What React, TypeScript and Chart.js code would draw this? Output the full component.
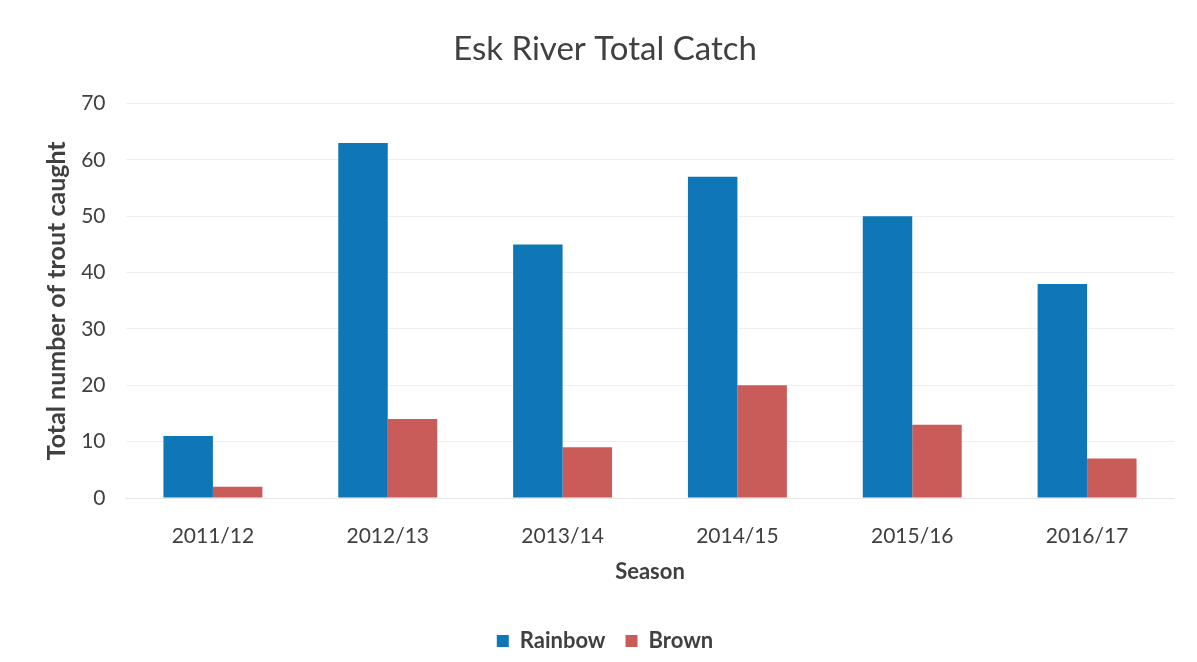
import React, { useEffect, useRef } from "react";
import { Chart, registerables } from "chart.js";

Chart.register(...registerables);

const seasons = ["2011/12", "2012/13", "2013/14", "2014/15", "2015/16", "2016/17"];
const rainbow = [11, 63, 45, 57, 50, 38];
const brown = [2, 14, 9, 20, 13, 7];
const yTicks = [0, 10, 20, 30, 40, 50, 60, 70];

const TEXT = "#404040";

export default function App() {
  const ref = useRef<HTMLCanvasElement | null>(null);

  useEffect(() => {
    document.body.style.margin = "0";
    const canvas = ref.current;
    if (!canvas) return;
    const chart = new Chart(canvas, {
      type: "bar",
      data: {
        labels: seasons,
        datasets: [
          {
            label: "Rainbow",
            data: rainbow,
            backgroundColor: "#0f77b6",
            categoryPercentage: 0.566,
            barPercentage: 1,
          },
          {
            label: "Brown",
            data: brown,
            backgroundColor: "#c95c59",
            categoryPercentage: 0.566,
            barPercentage: 1,
          },
        ],
      },
      options: {
        animation: false,
        responsive: true,
        maintainAspectRatio: false,
        layout: { padding: { top: 30, bottom: 0, left: 35.5, right: 22.5 } },
        plugins: {
          title: {
            display: true,
            text: "Esk River Total Catch",
            color: TEXT,
            font: { family: "Lato", size: 33, weight: "normal" },
            padding: { top: 0, bottom: 34 },
          },
          legend: {
            display: true,
            position: "bottom",
            labels: {
              color: TEXT,
              font: { family: "Lato", size: 22, weight: "bold" },
              boxWidth: 12,
              boxHeight: 12,
              padding: 20,
            },
          },
          tooltip: { enabled: false },
        },
        scales: {
          x: {
            grid: { display: false },
            border: { display: true, color: "#e6e6e6" },
            ticks: {
              color: TEXT,
              font: { family: "Lato", size: 21 },
              padding: 18,
            },
            title: {
              display: true,
              text: "Season",
              color: TEXT,
              font: { family: "Lato", size: 22, weight: "bold" },
              padding: { top: 0, bottom: 25 },
            },
            afterFit: (scale: any) => {
              scale.height = 112;
            },
          },
          y: {
            min: 0,
            max: 70,
            afterBuildTicks: (scale: any) => {
              scale.ticks = yTicks.map((v) => ({ value: v }));
            },
            grid: { color: "#efefef", drawTicks: false },
            border: { display: false },
            ticks: {
              color: TEXT,
              font: { family: "Lato", size: 21 },
              padding: 20,
            },
            title: {
              display: true,
              text: "Total number of trout caught",
              color: TEXT,
              font: { family: "Lato", size: 25, weight: "bold" },
              padding: { top: 6.5, bottom: 0 },
            },
            afterFit: (scale: any) => {
              scale.width = 90;
            },
          },
        },
      },
    });
    return () => chart.destroy();
  }, []);

  return (
    <div style={{ position: "absolute", left: 0, top: 0, width: 1197, height: 662, background: "#fff" }}>
      <canvas ref={ref} />
    </div>
  );
}
